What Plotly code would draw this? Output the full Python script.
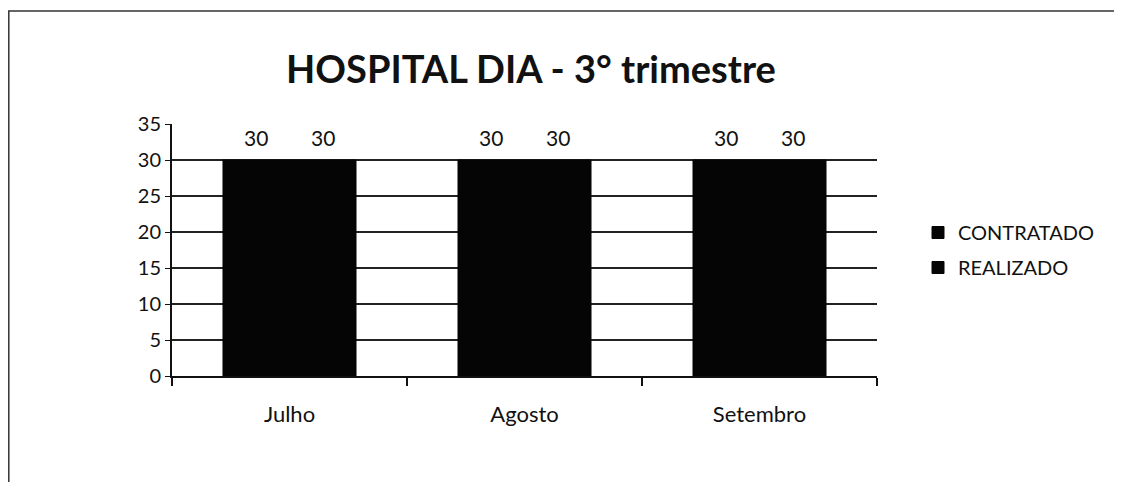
import plotly.graph_objects as go

months = ["Julho", "Agosto", "Setembro"]
contratado = [30, 30, 30]
realizado = [30, 30, 30]
series_names = ["CONTRATADO", "REALIZADO"]
y_ticks = [0, 5, 10, 15, 20, 25, 30, 35]

# page body has an 8px margin, so figure coords = screen coords - 8
OFF = 8
W, H = 1114, 474
L, T = 172 - OFF, 124 - OFF
R = W - (877 - OFF)
B = H - (376 - OFF)
pw, ph = W - L - R, H - T - B

def px_x(x):
    return (x - OFF - L) / pw

def px_y(y):
    return (H - B - (y - OFF)) / ph

FONT = "Lato, 'Open Sans', sans-serif"
BARGAP = 0.434
bar_px = pw / len(months) * (1 - BARGAP) / 2

fig = go.Figure()
for name, vals in [(series_names[0], contratado), (series_names[1], realizado)]:
    fig.add_trace(go.Bar(
        x=months, y=vals, name=name, legendgroup=name,
        marker=dict(color="#050505", line=dict(width=1, color="#050505")),
    ))

annotations = []
for sign, vals in [(-1, contratado), (1, realizado)]:
    for m, v in zip(months, vals):
        annotations.append(dict(
            x=m, y=v, xref="x", yref="y", text=str(v), showarrow=False,
            xshift=sign * bar_px / 2, yshift=23, yanchor="middle",
            font=dict(size=21, color="#111", family=FONT)))

fig.update_layout(
    width=W, height=H,
    margin=dict(l=L, r=R, t=T, b=B),
    paper_bgcolor="white", plot_bgcolor="white",
    barmode="group", bargap=BARGAP, bargroupgap=0,
    font=dict(family=FONT, color="#111", size=20),
    title=dict(text="<b>HOSPITAL DIA - 3° trimestre</b>",
               x=px_x(531), xref="paper", xanchor="center",
               y=1 - (70 - OFF) / H, yanchor="middle",
               font=dict(size=38, color="#111", family=FONT)),
    showlegend=True,
    legend=dict(x=px_x(918), y=px_y(213), xanchor="left", yanchor="top",
                font=dict(size=20, color="#111"), tracegroupgap=6,
                itemwidth=30, bgcolor="rgba(0,0,0,0)"),
    xaxis=dict(type="category", showline=True, linecolor="#111", linewidth=2,
               ticks="outside", tickson="boundaries", ticklen=8,
               tickcolor="#111", tickwidth=1.5, showgrid=False,
               ticklabelstandoff=18, tickfont=dict(size=22)),
    yaxis=dict(range=[0, 35], tickvals=y_ticks, showline=True,
               linecolor="#111", linewidth=2, ticks="outside", ticklen=5,
               tickcolor="#111", showgrid=True, gridcolor="#222",
               gridwidth=1.5, zeroline=False, tickfont=dict(size=20),
               ticklabelstandoff=0),
    annotations=annotations,
    shapes=[dict(type="rect", xref="paper", yref="paper",
                 x0=px_x(8.8), x1=px_x(1140), y0=px_y(500), y1=px_y(11),
                 line=dict(color="#333", width=1.5), layer="below")],
)

fig.write_html("out.html")
